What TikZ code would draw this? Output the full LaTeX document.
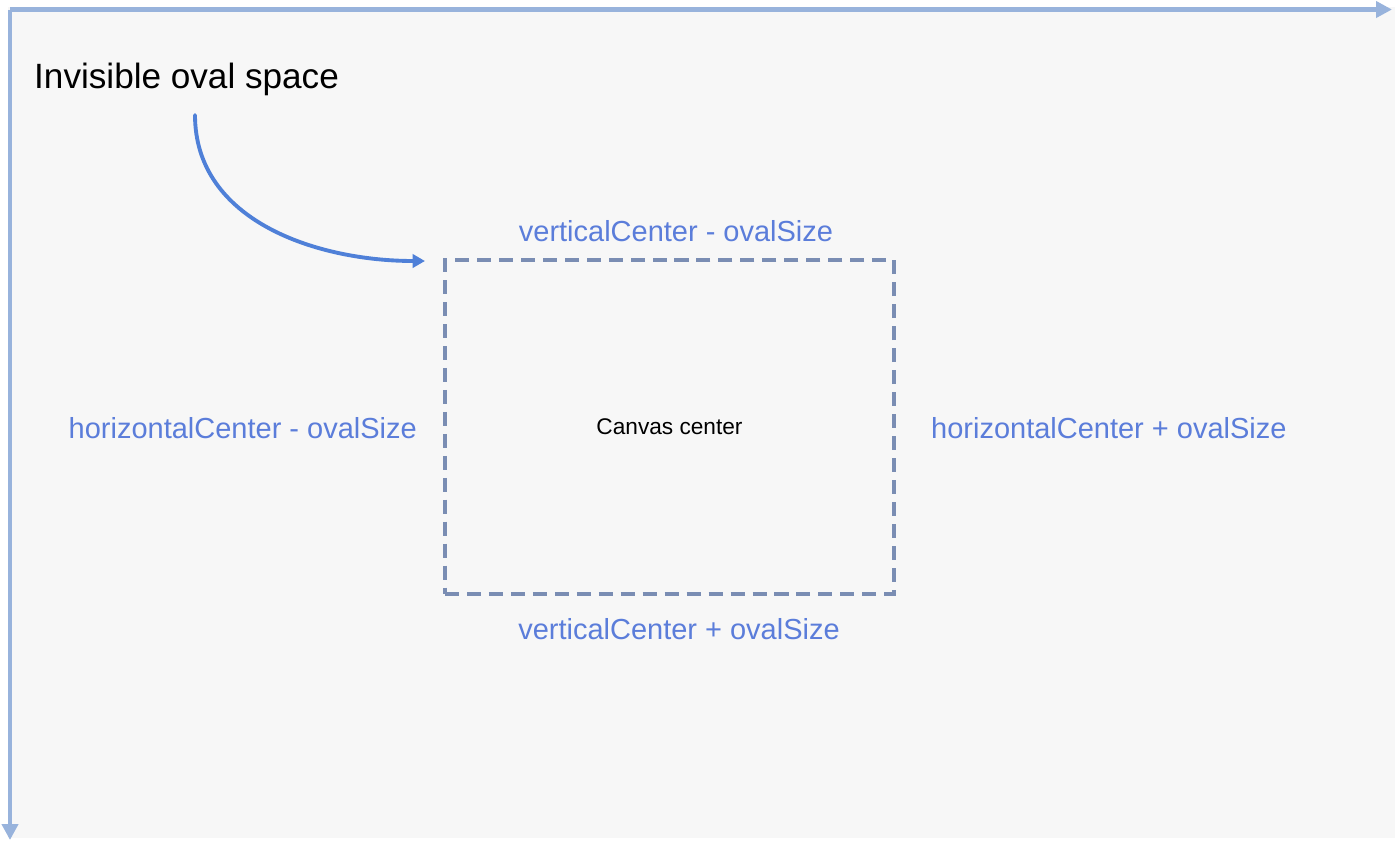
\documentclass[tikz,border=0pt]{standalone}
\usepackage{fontspec}
\setmainfont{Liberation Sans}
\usetikzlibrary{arrows.meta}

\definecolor{axisblue}{HTML}{98B3DC}
\definecolor{labelblue}{HTML}{5B7DDA}
\definecolor{curveblue}{HTML}{4F80D8}
\definecolor{boxgrey}{HTML}{7A8DB3}
\definecolor{canvasbg}{HTML}{F7F7F7}

\tikzset{
  axisline/.style={line width=2.8pt, axisblue, -{Triangle[length=9pt,width=9pt]}},
  bound/.style={text=labelblue, font=\fontsize{16.5}{19}\selectfont},
  ovalbox/.style={draw=boxgrey, line width=2pt, dash pattern=on 8pt off 4.5pt,
    minimum width=8.98cm, minimum height=6.68cm, font=\fontsize{12.9}{15}\selectfont}
}

\begin{document}
\begin{tikzpicture}[x=0.02cm,y=-0.02cm]
	\useasboundingbox (0,0) rectangle (1400,846);
	\fill[canvasbg] (8,7) rectangle (1395,838);
	% axis
	\draw[axisline] (10,9.5)--(1392,9.5);
	\draw[axisline] (10,9.5)--(10,840);
	% oval space
	\node[ovalbox] (ovalspace) at (669.5,427) {Canvas center};
	\node[anchor=west, font=\fontsize{20}{24}\selectfont] (title) at (28,79) {Invisible oval space};
	\node[bound] (vcMinus) at (676,231) {verticalCenter - ovalSize};
	\node[bound] (vcPlus) at (679,629) {verticalCenter + ovalSize};
	\node[bound, anchor=east] (hcMinus) at (423,428) {horizontalCenter - ovalSize};
	\node[bound, anchor=west] (hcPlus) at (925,428) {horizontalCenter + ovalSize};
	% pointer
	\coordinate (arrowstart) at (195,115);
	\coordinate (arrowend) at (425,261);
	\draw[curveblue, line width=2.2pt, line cap=round, -{Triangle[length=7pt,width=7.5pt]}]
		(arrowstart) to [out=-90, in=180] (arrowend);
\end{tikzpicture}
\end{document}
